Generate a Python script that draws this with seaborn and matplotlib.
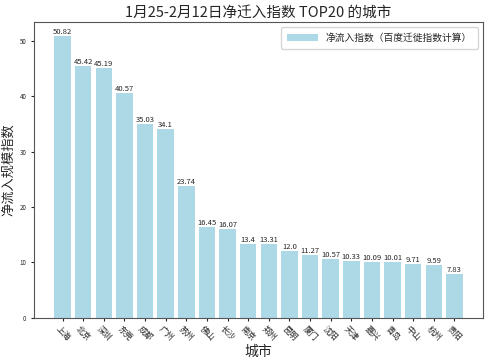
import pandas as pd
import matplotlib
matplotlib.use('Agg')
import matplotlib.pyplot as plt
import seaborn as sns

# Data
cities = ['上海', '北京', '深圳', '东莞', '成都', '广州', '苏州', '佛山', '长沙', '南京',
          '郑州', '昆明', '厦门', '沈阳', '天津', '嘉兴', '青岛', '中山', '杭州', '贵阳']
values = [50.82, 45.42, 45.19, 40.57, 35.03, 34.1, 23.74, 16.45, 16.07, 13.4,
          13.31, 12.0, 11.27, 10.57, 10.33, 10.09, 10.01, 9.71, 9.59, 7.83]

df = pd.DataFrame({'city': cities, 'value': values})

sns.set_style('ticks')
plt.rcParams['font.family'] = ['Noto Sans CJK SC', 'DejaVu Sans']
plt.rcParams['axes.unicode_minus'] = False

fig = plt.figure(figsize=(4.99, 3.62), dpi=100)
ax = fig.add_axes([0.068, 0.122, 0.900, 0.817])

sns.barplot(data=df, x='city', y='value', color='lightblue', saturation=1,
            width=0.8, linewidth=0, label='净流入指数（百度迁徙指数计算）', ax=ax)

for i, v in enumerate(values):
    ax.text(i, v, str(v), ha='center', va='bottom', fontsize=5.5)

ax.set_xlim(-1.39, 20.39)
ax.set_ylim(0, 53.4)
ax.set_title('1月25-2月12日净迁入指数 TOP20 的城市', fontsize=10.5, pad=4)
ax.set_xlabel('城市', fontsize=10, labelpad=2)
ax.set_ylabel('净流入规模指数', fontsize=9.5, labelpad=3)
ax.tick_params(axis='y', labelsize=4.5, length=2.5, pad=3)
ax.tick_params(axis='x', labelsize=6, length=2.5, pad=2)
ax.set_yticks([0, 10, 20, 30, 40, 50])
plt.setp(ax.get_xticklabels(), rotation=-45, ha='center')
for s in ax.spines.values():
    s.set_visible(True)
    s.set_color('#555555')
    s.set_linewidth(0.8)
ax.legend(loc='upper right', fontsize=7, frameon=True, handlelength=3.2,
          borderpad=0.6)

fig.savefig('out.png', dpi=100)
